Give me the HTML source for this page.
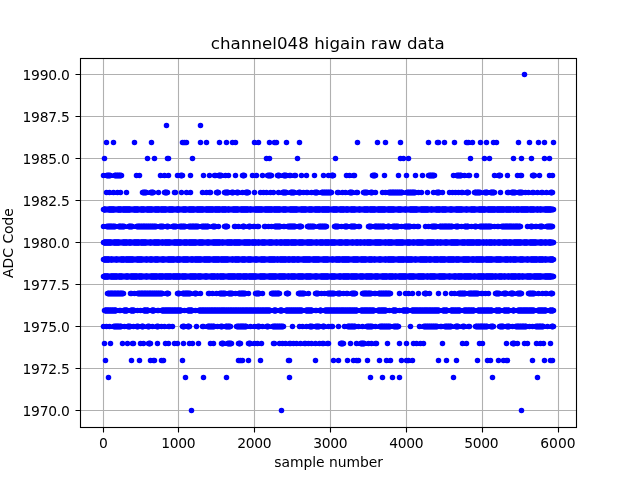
<!DOCTYPE html>
<html lang="en"><head><meta charset="utf-8"><title>channel048 higain raw data</title>
<style>
html,body{margin:0;padding:0;background:#fff;overflow:hidden}
svg{display:block}
text{font-family:"DejaVu Sans", "Liberation Sans", sans-serif;fill:#000}
.t{font-size:13.889px}
.h{font-size:16.667px}
</style></head>
<body>
<svg width="640" height="480" viewBox="0 0 640 480">
<rect width="640" height="480" fill="#fff"/>
<path d="M103.5 58V427M178.5 58V427M254.5 58V427M330.5 58V427M406.5 58V427M482.5 58V427M558.5 58V427M80 410.5H576M80 368.5H576M80 326.5H576M80 284.5H576M80 242.5H576M80 200.5H576M80 158.5H576M80 116.5H576M80 74.5H576" stroke="#b0b0b0" stroke-width="1.111" fill="none"/>
<path d="M191.5 410.5h0M281.5 410.5h0M521.5 410.5h0
M108.5 377.5h0M185.5 377.5h0M203.5 377.5h0M226.5 377.5h0M289.5 377.5h0M370.5 377.5h0M382.5 377.5h0M392.5 377.5h0M399.5 377.5h0M453.5 377.5h0M492.5 377.5h0M537.5 377.5h0
M105.5 360.5h0M131.5 360.5h0M139.5 360.5h0M150.5 360.5h0M153.5 360.5h1M161.5 360.5h0M163.5 360.5h0M182.5 360.5h0M238.5 360.5h0M240.5 360.5h0M242.5 360.5h0M248.5 360.5h0M260.5 360.5h0M288.5 360.5h1M315.5 360.5h0M333.5 360.5h0M338.5 360.5h0M347.5 360.5h0M353.5 360.5h0M356.5 360.5h0M358.5 360.5h0M367.5 360.5h0M379.5 360.5h0M386.5 360.5h0M390.5 360.5h0M401.5 360.5h0M406.5 360.5h0M408.5 360.5h0M412.5 360.5h0M438.5 360.5h0M446.5 360.5h0M456.5 360.5h0M477.5 360.5h0M487.5 360.5h0M490.5 360.5h0M498.5 360.5h0M503.5 360.5h0M506.5 360.5h1M532.5 360.5h0M544.5 360.5h0M550.5 360.5h0M552.5 360.5h0
M104.5 343.5h0M110.5 343.5h0M122.5 343.5h0M127.5 343.5h0M132.5 343.5h1M140.5 343.5h0M143.5 343.5h0M148.5 343.5h0M150.5 343.5h0M157.5 343.5h0M165.5 343.5h0M168.5 343.5h0M174.5 343.5h0M177.5 343.5h0M183.5 343.5h0M189.5 343.5h0M192.5 343.5h0M198.5 343.5h0M210.5 343.5h0M213.5 343.5h0M221.5 343.5h0M223.5 343.5h0M227.5 343.5h0M229.5 343.5h0M231.5 343.5h0M238.5 343.5h0M240.5 343.5h0M248.5 343.5h0M250.5 343.5h0M254.5 343.5h0M257.5 343.5h0M261.5 343.5h0M273.5 343.5h1M279.5 343.5h0M282.5 343.5h0M285.5 343.5h0M289.5 343.5h0M290.5 343.5h0M293.5 343.5h0M296.5 343.5h0M300.5 343.5h0M304.5 343.5h0M305.5 343.5h0M308.5 343.5h0M311.5 343.5h0M315.5 343.5h0M319.5 343.5h0M322.5 343.5h0M323.5 343.5h0M327.5 343.5h0M328.5 343.5h0M340.5 343.5h1M343.5 343.5h0M350.5 343.5h0M356.5 343.5h0M360.5 343.5h0M362.5 343.5h0M364.5 343.5h0M368.5 343.5h0M371.5 343.5h0M375.5 343.5h0M376.5 343.5h0M387.5 343.5h0M399.5 343.5h0M406.5 343.5h0M413.5 343.5h0M416.5 343.5h0M420.5 343.5h0M423.5 343.5h0M442.5 343.5h0M462.5 343.5h0M466.5 343.5h0M479.5 343.5h0M482.5 343.5h0M506.5 343.5h0M512.5 343.5h0M514.5 343.5h0M517.5 343.5h0M524.5 343.5h0M527.5 343.5h0M536.5 343.5h0M540.5 343.5h0M543.5 343.5h0M550.5 343.5h0
M103.5 326.5h0M106.5 326.5h0M109.5 326.5h0M113.5 326.5h0M115.5 326.5h0M116.5 326.5h0M117.5 326.5h0M118.5 326.5h0M120.5 326.5h0M121.5 326.5h0M124.5 326.5h0M127.5 326.5h0M128.5 326.5h0M130.5 326.5h0M133.5 326.5h0M136.5 326.5h0M138.5 326.5h0M141.5 326.5h0M142.5 326.5h0M143.5 326.5h0M147.5 326.5h0M149.5 326.5h0M152.5 326.5h0M156.5 326.5h0M158.5 326.5h0M161.5 326.5h0M164.5 326.5h0M168.5 326.5h0M169.5 326.5h0M172.5 326.5h0M182.5 326.5h0M184.5 326.5h0M187.5 326.5h0M188.5 326.5h0M189.5 326.5h0M196.5 326.5h0M202.5 326.5h0M203.5 326.5h0M207.5 326.5h0M208.5 326.5h0M209.5 326.5h0M211.5 326.5h0M213.5 326.5h0M214.5 326.5h0M217.5 326.5h0M220.5 326.5h0M222.5 326.5h0M225.5 326.5h0M226.5 326.5h0M228.5 326.5h0M230.5 326.5h0M236.5 326.5h0M238.5 326.5h0M240.5 326.5h0M241.5 326.5h0M242.5 326.5h0M243.5 326.5h0M245.5 326.5h0M246.5 326.5h0M250.5 326.5h0M254.5 326.5h0M257.5 326.5h0M259.5 326.5h0M262.5 326.5h0M266.5 326.5h0M268.5 326.5h0M272.5 326.5h0M274.5 326.5h0M275.5 326.5h0M277.5 326.5h0M279.5 326.5h0M281.5 326.5h0M283.5 326.5h0M292.5 326.5h0M299.5 326.5h0M302.5 326.5h0M306.5 326.5h0M309.5 326.5h0M310.5 326.5h0M312.5 326.5h0M315.5 326.5h0M317.5 326.5h0M319.5 326.5h0M322.5 326.5h0M323.5 326.5h0M324.5 326.5h0M328.5 326.5h0M331.5 326.5h0M332.5 326.5h0M338.5 326.5h0M344.5 326.5h0M347.5 326.5h0M348.5 326.5h0M349.5 326.5h0M351.5 326.5h0M352.5 326.5h0M354.5 326.5h0M355.5 326.5h0M358.5 326.5h0M362.5 326.5h0M366.5 326.5h0M368.5 326.5h0M370.5 326.5h0M372.5 326.5h0M375.5 326.5h0M379.5 326.5h0M381.5 326.5h0M382.5 326.5h0M384.5 326.5h0M386.5 326.5h0M388.5 326.5h0M390.5 326.5h0M393.5 326.5h0M395.5 326.5h0M397.5 326.5h0M398.5 326.5h0M410.5 326.5h0M419.5 326.5h0M423.5 326.5h0M425.5 326.5h0M427.5 326.5h0M429.5 326.5h0M431.5 326.5h0M433.5 326.5h0M435.5 326.5h0M437.5 326.5h0M440.5 326.5h0M441.5 326.5h0M444.5 326.5h0M446.5 326.5h0M448.5 326.5h0M450.5 326.5h0M451.5 326.5h0M455.5 326.5h0M456.5 326.5h0M457.5 326.5h0M458.5 326.5h0M462.5 326.5h0M464.5 326.5h0M468.5 326.5h0M469.5 326.5h0M475.5 326.5h0M476.5 326.5h0M478.5 326.5h0M480.5 326.5h0M481.5 326.5h0M482.5 326.5h0M484.5 326.5h0M486.5 326.5h0M487.5 326.5h0M490.5 326.5h0M492.5 326.5h0M493.5 326.5h0M499.5 326.5h0M501.5 326.5h0M502.5 326.5h0M503.5 326.5h0M506.5 326.5h0M508.5 326.5h0M509.5 326.5h0M512.5 326.5h0M515.5 326.5h0M517.5 326.5h0M518.5 326.5h0M520.5 326.5h0M522.5 326.5h0M523.5 326.5h0M525.5 326.5h0M526.5 326.5h0M529.5 326.5h0M532.5 326.5h0M535.5 326.5h0M537.5 326.5h0M539.5 326.5h0M540.5 326.5h0M542.5 326.5h0M543.5 326.5h0M547.5 326.5h0M551.5 326.5h0M552.5 326.5h0M553.5 326.5h0
M104.5 310.5h0M105.5 310.5h0M106.5 310.5h0M107.5 310.5h0M108.5 310.5h0M110.5 310.5h0M112.5 310.5h0M114.5 310.5h0M115.5 310.5h0M116.5 310.5h0M119.5 310.5h0M120.5 310.5h0M123.5 310.5h0M125.5 310.5h0M126.5 310.5h0M127.5 310.5h0M130.5 310.5h0M132.5 310.5h0M134.5 310.5h0M137.5 310.5h0M140.5 310.5h0M143.5 310.5h0M144.5 310.5h0M145.5 310.5h0M147.5 310.5h0M148.5 310.5h0M151.5 310.5h0M152.5 310.5h0M154.5 310.5h0M157.5 310.5h0M158.5 310.5h0M161.5 310.5h0M163.5 310.5h0M165.5 310.5h0M166.5 310.5h0M167.5 310.5h0M168.5 310.5h0M169.5 310.5h0M170.5 310.5h0M172.5 310.5h0M174.5 310.5h0M175.5 310.5h0M177.5 310.5h0M178.5 310.5h0M180.5 310.5h0M181.5 310.5h0M184.5 310.5h0M187.5 310.5h0M189.5 310.5h0M190.5 310.5h0M191.5 310.5h0M192.5 310.5h0M195.5 310.5h0M198.5 310.5h0M200.5 310.5h0M202.5 310.5h0M203.5 310.5h0M205.5 310.5h0M207.5 310.5h0M209.5 310.5h0M211.5 310.5h0M212.5 310.5h0M214.5 310.5h0M215.5 310.5h0M217.5 310.5h0M219.5 310.5h0M221.5 310.5h0M222.5 310.5h0M223.5 310.5h0M224.5 310.5h0M226.5 310.5h0M228.5 310.5h0M230.5 310.5h0M231.5 310.5h0M233.5 310.5h0M235.5 310.5h0M236.5 310.5h0M238.5 310.5h0M240.5 310.5h0M242.5 310.5h0M243.5 310.5h0M245.5 310.5h0M246.5 310.5h0M247.5 310.5h0M249.5 310.5h0M250.5 310.5h0M251.5 310.5h0M253.5 310.5h0M255.5 310.5h0M257.5 310.5h0M258.5 310.5h0M260.5 310.5h0M262.5 310.5h0M263.5 310.5h0M265.5 310.5h0M266.5 310.5h0M267.5 310.5h0M268.5 310.5h0M270.5 310.5h0M273.5 310.5h0M274.5 310.5h0M276.5 310.5h0M279.5 310.5h0M280.5 310.5h0M281.5 310.5h0M282.5 310.5h0M285.5 310.5h0M287.5 310.5h0M289.5 310.5h0M291.5 310.5h0M293.5 310.5h0M295.5 310.5h0M297.5 310.5h0M299.5 310.5h0M300.5 310.5h0M302.5 310.5h0M305.5 310.5h0M307.5 310.5h0M308.5 310.5h0M309.5 310.5h0M310.5 310.5h0M311.5 310.5h0M312.5 310.5h0M315.5 310.5h0M316.5 310.5h0M319.5 310.5h0M321.5 310.5h0M324.5 310.5h0M326.5 310.5h0M327.5 310.5h0M328.5 310.5h0M329.5 310.5h0M330.5 310.5h0M331.5 310.5h0M333.5 310.5h0M334.5 310.5h0M336.5 310.5h0M337.5 310.5h0M339.5 310.5h0M341.5 310.5h0M342.5 310.5h0M343.5 310.5h0M345.5 310.5h0M347.5 310.5h0M349.5 310.5h0M350.5 310.5h0M352.5 310.5h0M354.5 310.5h0M356.5 310.5h0M357.5 310.5h0M360.5 310.5h0M362.5 310.5h0M364.5 310.5h0M365.5 310.5h0M366.5 310.5h0M367.5 310.5h0M369.5 310.5h0M370.5 310.5h0M372.5 310.5h0M374.5 310.5h0M377.5 310.5h0M379.5 310.5h0M381.5 310.5h0M382.5 310.5h0M383.5 310.5h0M384.5 310.5h0M386.5 310.5h0M389.5 310.5h0M392.5 310.5h0M393.5 310.5h0M394.5 310.5h0M396.5 310.5h0M399.5 310.5h0M402.5 310.5h0M403.5 310.5h0M404.5 310.5h0M405.5 310.5h0M406.5 310.5h0M407.5 310.5h0M408.5 310.5h0M411.5 310.5h0M412.5 310.5h0M413.5 310.5h0M414.5 310.5h0M415.5 310.5h0M416.5 310.5h0M417.5 310.5h0M419.5 310.5h0M420.5 310.5h0M422.5 310.5h0M424.5 310.5h0M425.5 310.5h0M426.5 310.5h0M427.5 310.5h0M429.5 310.5h0M430.5 310.5h0M432.5 310.5h0M434.5 310.5h0M435.5 310.5h0M436.5 310.5h0M437.5 310.5h0M439.5 310.5h0M442.5 310.5h0M444.5 310.5h0M446.5 310.5h0M447.5 310.5h0M450.5 310.5h0M451.5 310.5h0M452.5 310.5h0M453.5 310.5h0M455.5 310.5h0M457.5 310.5h0M458.5 310.5h0M459.5 310.5h0M460.5 310.5h0M463.5 310.5h0M465.5 310.5h0M466.5 310.5h0M468.5 310.5h0M469.5 310.5h0M471.5 310.5h0M473.5 310.5h0M474.5 310.5h0M477.5 310.5h0M478.5 310.5h0M480.5 310.5h0M482.5 310.5h0M484.5 310.5h0M486.5 310.5h0M487.5 310.5h0M488.5 310.5h0M490.5 310.5h0M491.5 310.5h0M492.5 310.5h0M495.5 310.5h0M496.5 310.5h0M498.5 310.5h0M499.5 310.5h0M500.5 310.5h0M503.5 310.5h0M504.5 310.5h0M506.5 310.5h0M508.5 310.5h0M509.5 310.5h0M512.5 310.5h0M513.5 310.5h0M514.5 310.5h0M517.5 310.5h0M519.5 310.5h0M520.5 310.5h0M521.5 310.5h0M523.5 310.5h0M524.5 310.5h0M525.5 310.5h0M526.5 310.5h0M527.5 310.5h0M529.5 310.5h0M530.5 310.5h0M531.5 310.5h0M532.5 310.5h0M534.5 310.5h0M537.5 310.5h0M539.5 310.5h0M540.5 310.5h0M541.5 310.5h0M542.5 310.5h0M544.5 310.5h0M545.5 310.5h0M546.5 310.5h0M549.5 310.5h0M550.5 310.5h0M552.5 310.5h0M553.5 310.5h0
M107.5 293.5h0M108.5 293.5h0M110.5 293.5h0M111.5 293.5h0M112.5 293.5h0M114.5 293.5h0M115.5 293.5h0M117.5 293.5h0M118.5 293.5h0M120.5 293.5h0M121.5 293.5h0M123.5 293.5h0M130.5 293.5h0M131.5 293.5h0M134.5 293.5h0M137.5 293.5h0M139.5 293.5h0M141.5 293.5h0M142.5 293.5h0M144.5 293.5h0M145.5 293.5h0M147.5 293.5h0M149.5 293.5h0M150.5 293.5h0M152.5 293.5h0M154.5 293.5h0M156.5 293.5h0M158.5 293.5h0M160.5 293.5h0M162.5 293.5h0M166.5 293.5h0M168.5 293.5h0M177.5 293.5h0M179.5 293.5h0M182.5 293.5h0M183.5 293.5h0M185.5 293.5h0M186.5 293.5h0M187.5 293.5h0M188.5 293.5h0M190.5 293.5h0M194.5 293.5h0M196.5 293.5h0M200.5 293.5h0M208.5 293.5h0M209.5 293.5h0M212.5 293.5h0M216.5 293.5h0M219.5 293.5h0M221.5 293.5h0M223.5 293.5h0M225.5 293.5h0M228.5 293.5h0M230.5 293.5h0M232.5 293.5h0M235.5 293.5h0M238.5 293.5h0M239.5 293.5h0M241.5 293.5h0M242.5 293.5h0M243.5 293.5h0M245.5 293.5h0M248.5 293.5h0M255.5 293.5h0M257.5 293.5h0M258.5 293.5h0M259.5 293.5h0M262.5 293.5h0M271.5 293.5h0M273.5 293.5h0M275.5 293.5h0M277.5 293.5h0M278.5 293.5h0M279.5 293.5h0M286.5 293.5h2M298.5 293.5h0M300.5 293.5h0M302.5 293.5h0M304.5 293.5h0M308.5 293.5h0M315.5 293.5h0M316.5 293.5h0M318.5 293.5h0M321.5 293.5h0M324.5 293.5h0M327.5 293.5h0M329.5 293.5h0M330.5 293.5h0M332.5 293.5h0M334.5 293.5h0M337.5 293.5h0M339.5 293.5h0M340.5 293.5h0M343.5 293.5h0M346.5 293.5h0M347.5 293.5h0M351.5 293.5h0M353.5 293.5h0M355.5 293.5h0M362.5 293.5h0M364.5 293.5h0M365.5 293.5h0M366.5 293.5h0M368.5 293.5h0M369.5 293.5h0M371.5 293.5h0M374.5 293.5h0M375.5 293.5h0M378.5 293.5h0M379.5 293.5h0M381.5 293.5h0M383.5 293.5h0M385.5 293.5h0M386.5 293.5h0M388.5 293.5h0M390.5 293.5h0M399.5 293.5h0M405.5 293.5h0M408.5 293.5h0M412.5 293.5h0M418.5 293.5h0M424.5 293.5h0M426.5 293.5h0M429.5 293.5h0M438.5 293.5h0M445.5 293.5h0M451.5 293.5h0M454.5 293.5h0M458.5 293.5h0M460.5 293.5h0M462.5 293.5h0M464.5 293.5h0M465.5 293.5h0M468.5 293.5h0M470.5 293.5h0M471.5 293.5h0M473.5 293.5h0M474.5 293.5h0M475.5 293.5h0M476.5 293.5h0M478.5 293.5h0M481.5 293.5h0M482.5 293.5h0M485.5 293.5h0M488.5 293.5h0M495.5 293.5h0M496.5 293.5h0M497.5 293.5h0M499.5 293.5h0M503.5 293.5h0M505.5 293.5h0M506.5 293.5h0M510.5 293.5h0M511.5 293.5h0M512.5 293.5h0M513.5 293.5h0M517.5 293.5h0M519.5 293.5h0M520.5 293.5h0M521.5 293.5h0M528.5 293.5h0M530.5 293.5h0M532.5 293.5h0M534.5 293.5h0M538.5 293.5h0M542.5 293.5h0M545.5 293.5h0M546.5 293.5h0M550.5 293.5h0M552.5 293.5h0
M103.5 276.5h450
M103.5 259.5h450
M103.5 242.5h450
M103.5 226.5h0M106.5 226.5h0M108.5 226.5h0M109.5 226.5h0M110.5 226.5h0M111.5 226.5h0M113.5 226.5h0M115.5 226.5h0M118.5 226.5h0M119.5 226.5h0M120.5 226.5h0M122.5 226.5h0M124.5 226.5h0M128.5 226.5h0M129.5 226.5h0M130.5 226.5h0M132.5 226.5h0M136.5 226.5h0M138.5 226.5h0M139.5 226.5h0M141.5 226.5h0M143.5 226.5h0M144.5 226.5h0M146.5 226.5h0M148.5 226.5h0M150.5 226.5h0M152.5 226.5h0M154.5 226.5h0M156.5 226.5h0M159.5 226.5h0M161.5 226.5h0M163.5 226.5h0M166.5 226.5h0M168.5 226.5h0M172.5 226.5h0M173.5 226.5h0M174.5 226.5h0M176.5 226.5h0M179.5 226.5h0M181.5 226.5h0M183.5 226.5h0M185.5 226.5h0M188.5 226.5h0M190.5 226.5h0M192.5 226.5h0M193.5 226.5h0M195.5 226.5h0M196.5 226.5h0M198.5 226.5h0M201.5 226.5h0M203.5 226.5h0M205.5 226.5h0M207.5 226.5h0M208.5 226.5h0M212.5 226.5h0M213.5 226.5h0M215.5 226.5h0M218.5 226.5h0M224.5 226.5h0M226.5 226.5h0M227.5 226.5h0M234.5 226.5h0M235.5 226.5h0M238.5 226.5h0M242.5 226.5h2M248.5 226.5h0M250.5 226.5h0M253.5 226.5h0M254.5 226.5h0M257.5 226.5h0M258.5 226.5h0M264.5 226.5h0M265.5 226.5h0M268.5 226.5h0M271.5 226.5h0M274.5 226.5h0M275.5 226.5h0M276.5 226.5h0M277.5 226.5h0M278.5 226.5h0M279.5 226.5h0M280.5 226.5h0M283.5 226.5h0M284.5 226.5h0M287.5 226.5h0M289.5 226.5h0M290.5 226.5h0M291.5 226.5h0M292.5 226.5h0M293.5 226.5h0M294.5 226.5h0M295.5 226.5h0M298.5 226.5h0M300.5 226.5h0M301.5 226.5h0M307.5 226.5h0M308.5 226.5h0M310.5 226.5h0M312.5 226.5h0M314.5 226.5h0M318.5 226.5h0M320.5 226.5h0M322.5 226.5h0M324.5 226.5h0M326.5 226.5h0M334.5 226.5h0M335.5 226.5h0M336.5 226.5h0M338.5 226.5h0M341.5 226.5h0M344.5 226.5h0M345.5 226.5h0M346.5 226.5h0M347.5 226.5h0M350.5 226.5h0M351.5 226.5h0M352.5 226.5h0M353.5 226.5h0M354.5 226.5h0M355.5 226.5h0M358.5 226.5h0M359.5 226.5h0M368.5 226.5h0M369.5 226.5h0M371.5 226.5h0M374.5 226.5h0M375.5 226.5h0M376.5 226.5h0M378.5 226.5h0M380.5 226.5h0M382.5 226.5h0M383.5 226.5h0M384.5 226.5h0M387.5 226.5h0M388.5 226.5h0M389.5 226.5h0M392.5 226.5h0M394.5 226.5h0M396.5 226.5h0M398.5 226.5h0M401.5 226.5h0M404.5 226.5h0M406.5 226.5h0M408.5 226.5h0M410.5 226.5h0M413.5 226.5h0M414.5 226.5h0M417.5 226.5h0M418.5 226.5h0M425.5 226.5h0M428.5 226.5h0M431.5 226.5h0M433.5 226.5h0M434.5 226.5h0M436.5 226.5h0M439.5 226.5h0M440.5 226.5h0M442.5 226.5h0M444.5 226.5h0M445.5 226.5h0M446.5 226.5h0M448.5 226.5h0M449.5 226.5h0M451.5 226.5h0M452.5 226.5h0M455.5 226.5h0M457.5 226.5h0M458.5 226.5h0M461.5 226.5h0M464.5 226.5h0M465.5 226.5h0M467.5 226.5h0M468.5 226.5h0M471.5 226.5h0M474.5 226.5h0M476.5 226.5h0M479.5 226.5h0M481.5 226.5h0M483.5 226.5h0M485.5 226.5h0M486.5 226.5h0M488.5 226.5h0M489.5 226.5h0M491.5 226.5h0M494.5 226.5h0M497.5 226.5h0M498.5 226.5h0M501.5 226.5h0M503.5 226.5h0M505.5 226.5h0M506.5 226.5h0M507.5 226.5h0M509.5 226.5h0M510.5 226.5h0M511.5 226.5h0M513.5 226.5h0M515.5 226.5h0M516.5 226.5h0M517.5 226.5h0M519.5 226.5h0M520.5 226.5h0M527.5 226.5h0M530.5 226.5h0M532.5 226.5h0M535.5 226.5h0M536.5 226.5h0M539.5 226.5h0M541.5 226.5h0M542.5 226.5h0M546.5 226.5h0M548.5 226.5h0M549.5 226.5h0M550.5 226.5h0M552.5 226.5h0
M103.5 209.5h450
M106.5 192.5h0M109.5 192.5h0M113.5 192.5h0M117.5 192.5h0M120.5 192.5h0M126.5 192.5h0M142.5 192.5h0M144.5 192.5h0M146.5 192.5h0M150.5 192.5h0M152.5 192.5h0M153.5 192.5h0M158.5 192.5h0M164.5 192.5h0M165.5 192.5h0M167.5 192.5h0M174.5 192.5h1M181.5 192.5h0M186.5 192.5h0M190.5 192.5h0M202.5 192.5h0M206.5 192.5h0M209.5 192.5h0M210.5 192.5h0M216.5 192.5h2M224.5 192.5h0M226.5 192.5h0M227.5 192.5h0M228.5 192.5h0M231.5 192.5h0M233.5 192.5h0M236.5 192.5h0M238.5 192.5h0M242.5 192.5h0M245.5 192.5h0M246.5 192.5h0M247.5 192.5h0M248.5 192.5h0M254.5 192.5h0M260.5 192.5h0M263.5 192.5h0M266.5 192.5h0M270.5 192.5h0M273.5 192.5h0M278.5 192.5h0M282.5 192.5h0M283.5 192.5h0M284.5 192.5h0M286.5 192.5h0M290.5 192.5h0M291.5 192.5h0M292.5 192.5h0M294.5 192.5h0M298.5 192.5h0M300.5 192.5h0M303.5 192.5h0M306.5 192.5h0M307.5 192.5h0M311.5 192.5h0M314.5 192.5h0M316.5 192.5h0M317.5 192.5h0M321.5 192.5h0M322.5 192.5h0M324.5 192.5h0M326.5 192.5h0M328.5 192.5h0M330.5 192.5h0M331.5 192.5h0M337.5 192.5h1M342.5 192.5h0M345.5 192.5h0M349.5 192.5h0M350.5 192.5h0M352.5 192.5h0M356.5 192.5h0M357.5 192.5h0M363.5 192.5h0M365.5 192.5h0M367.5 192.5h0M370.5 192.5h0M372.5 192.5h0M375.5 192.5h0M382.5 192.5h0M385.5 192.5h0M388.5 192.5h0M390.5 192.5h0M392.5 192.5h0M393.5 192.5h0M395.5 192.5h0M397.5 192.5h0M399.5 192.5h0M401.5 192.5h0M402.5 192.5h0M406.5 192.5h0M408.5 192.5h0M410.5 192.5h0M412.5 192.5h0M413.5 192.5h0M415.5 192.5h0M418.5 192.5h0M421.5 192.5h0M427.5 192.5h0M433.5 192.5h0M436.5 192.5h0M438.5 192.5h0M439.5 192.5h0M442.5 192.5h0M449.5 192.5h0M452.5 192.5h0M455.5 192.5h0M458.5 192.5h0M461.5 192.5h0M462.5 192.5h0M466.5 192.5h0M468.5 192.5h0M474.5 192.5h0M475.5 192.5h0M477.5 192.5h0M478.5 192.5h0M480.5 192.5h0M484.5 192.5h0M486.5 192.5h0M487.5 192.5h0M490.5 192.5h0M491.5 192.5h0M492.5 192.5h0M493.5 192.5h0M494.5 192.5h0M500.5 192.5h0M507.5 192.5h0M508.5 192.5h0M511.5 192.5h0M512.5 192.5h0M513.5 192.5h0M515.5 192.5h0M518.5 192.5h0M520.5 192.5h0M522.5 192.5h0M525.5 192.5h0M528.5 192.5h0M532.5 192.5h0M533.5 192.5h0M537.5 192.5h0M541.5 192.5h0M542.5 192.5h0M546.5 192.5h0M550.5 192.5h0M552.5 192.5h0
M103.5 175.5h0M106.5 175.5h0M108.5 175.5h0M110.5 175.5h0M114.5 175.5h0M115.5 175.5h0M117.5 175.5h0M119.5 175.5h0M121.5 175.5h0M136.5 175.5h0M139.5 175.5h0M160.5 175.5h0M164.5 175.5h0M168.5 175.5h0M177.5 175.5h0M180.5 175.5h0M182.5 175.5h0M190.5 175.5h0M203.5 175.5h0M209.5 175.5h0M214.5 175.5h0M215.5 175.5h0M218.5 175.5h0M219.5 175.5h0M221.5 175.5h0M225.5 175.5h0M228.5 175.5h0M235.5 175.5h0M242.5 175.5h0M244.5 175.5h0M252.5 175.5h0M256.5 175.5h0M262.5 175.5h0M267.5 175.5h0M269.5 175.5h0M271.5 175.5h0M277.5 175.5h0M279.5 175.5h0M283.5 175.5h0M284.5 175.5h0M286.5 175.5h0M289.5 175.5h0M290.5 175.5h0M294.5 175.5h0M295.5 175.5h0M301.5 175.5h0M306.5 175.5h0M314.5 175.5h0M323.5 175.5h0M328.5 175.5h0M331.5 175.5h0M332.5 175.5h0M333.5 175.5h0M346.5 175.5h0M349.5 175.5h0M353.5 175.5h0M354.5 175.5h0M372.5 175.5h0M374.5 175.5h0M375.5 175.5h0M384.5 175.5h0M398.5 175.5h0M406.5 175.5h0M415.5 175.5h0M422.5 175.5h0M428.5 175.5h0M430.5 175.5h0M432.5 175.5h0M434.5 175.5h0M453.5 175.5h0M456.5 175.5h0M458.5 175.5h0M460.5 175.5h0M461.5 175.5h0M464.5 175.5h0M468.5 175.5h0M469.5 175.5h0M476.5 175.5h0M494.5 175.5h0M498.5 175.5h0M500.5 175.5h0M507.5 175.5h0M517.5 175.5h0M520.5 175.5h1M532.5 175.5h0M534.5 175.5h0M539.5 175.5h0M549.5 175.5h0M552.5 175.5h0
M104.5 158.5h0M147.5 158.5h0M154.5 158.5h0M167.5 158.5h1M192.5 158.5h0M266.5 158.5h0M269.5 158.5h0M297.5 158.5h0M335.5 158.5h0M400.5 158.5h0M403.5 158.5h0M408.5 158.5h0M470.5 158.5h0M484.5 158.5h0M489.5 158.5h0M513.5 158.5h0M521.5 158.5h0M531.5 158.5h0M544.5 158.5h0M549.5 158.5h0
M106.5 142.5h0M113.5 142.5h0M134.5 142.5h0M151.5 142.5h0M182.5 142.5h0M184.5 142.5h0M186.5 142.5h0M200.5 142.5h0M206.5 142.5h0M219.5 142.5h0M226.5 142.5h0M232.5 142.5h0M235.5 142.5h0M254.5 142.5h0M258.5 142.5h0M269.5 142.5h0M274.5 142.5h0M276.5 142.5h0M286.5 142.5h0M299.5 142.5h0M357.5 142.5h0M377.5 142.5h0M385.5 142.5h0M400.5 142.5h0M428.5 142.5h0M437.5 142.5h1M444.5 142.5h0M454.5 142.5h0M466.5 142.5h0M468.5 142.5h0M472.5 142.5h0M480.5 142.5h0M486.5 142.5h0M493.5 142.5h0M496.5 142.5h0M518.5 142.5h0M529.5 142.5h0M538.5 142.5h0M544.5 142.5h0M553.5 142.5h0
M166.5 125.5h0M200.5 125.5h0
M524.5 74.5h0" stroke="#0000ff" stroke-width="5.56" stroke-linecap="round" fill="none"/>
<path d="M104.5 310.5h12M123.5 310.5h4M130.5 310.5h4M143.5 310.5h5M151.5 310.5h3M161.5 310.5h20M187.5 310.5h5M198.5 310.5h72M273.5 310.5h3M279.5 310.5h3M285.5 310.5h17M305.5 310.5h7M319.5 310.5h2M324.5 310.5h33M360.5 310.5h14M377.5 310.5h9M392.5 310.5h4M402.5 310.5h6M411.5 310.5h28M442.5 310.5h5M450.5 310.5h10M463.5 310.5h11M477.5 310.5h15M495.5 310.5h5M503.5 310.5h6M512.5 310.5h2M517.5 310.5h17M537.5 310.5h9M549.5 310.5h4" stroke="#0000ff" stroke-width="6.3" fill="none"/>
<path d="M103.5 276.5h5M110.5 276.5h7M118.5 276.5h4M125.5 276.5h3M130.5 276.5h7M138.5 276.5h4M145.5 276.5h2M150.5 276.5h7M158.5 276.5h5M164.5 276.5h7M172.5 276.5h8M181.5 276.5h5M189.5 276.5h7M197.5 276.5h4M204.5 276.5h3M210.5 276.5h5M216.5 276.5h2M219.5 276.5h5M227.5 276.5h8M236.5 276.5h5M242.5 276.5h5M248.5 276.5h8M259.5 276.5h6M268.5 276.5h8M278.5 276.5h7M287.5 276.5h2M290.5 276.5h5M297.5 276.5h6M305.5 276.5h6M314.5 276.5h3M320.5 276.5h8M330.5 276.5h5M338.5 276.5h3M342.5 276.5h7M350.5 276.5h7M359.5 276.5h4M365.5 276.5h7M374.5 276.5h4M381.5 276.5h6M388.5 276.5h5M394.5 276.5h2M398.5 276.5h8M408.5 276.5h6M417.5 276.5h7M426.5 276.5h2M429.5 276.5h6M438.5 276.5h7M448.5 276.5h2M453.5 276.5h3M457.5 276.5h5M463.5 276.5h8M473.5 276.5h2M477.5 276.5h7M485.5 276.5h8M494.5 276.5h2M498.5 276.5h4M503.5 276.5h2M507.5 276.5h2M510.5 276.5h6M517.5 276.5h3M521.5 276.5h2M526.5 276.5h5M533.5 276.5h8M544.5 276.5h7" stroke="#0000ff" stroke-width="6.55" fill="none"/>
<path d="M103.5 276.5h450" stroke="#0000ff" stroke-width="6.1" fill="none"/>
<path d="M103.5 259.5h6M110.5 259.5h2M115.5 259.5h2M120.5 259.5h4M125.5 259.5h8M136.5 259.5h6M145.5 259.5h2M149.5 259.5h3M154.5 259.5h4M161.5 259.5h3M167.5 259.5h7M176.5 259.5h4M182.5 259.5h6M190.5 259.5h3M194.5 259.5h7M203.5 259.5h7M212.5 259.5h7M220.5 259.5h8M231.5 259.5h2M234.5 259.5h5M241.5 259.5h4M247.5 259.5h4M254.5 259.5h3M260.5 259.5h5M268.5 259.5h7M276.5 259.5h2M279.5 259.5h7M287.5 259.5h3M291.5 259.5h4M296.5 259.5h3M302.5 259.5h8M312.5 259.5h7M322.5 259.5h6M331.5 259.5h2M335.5 259.5h5M341.5 259.5h8M352.5 259.5h6M360.5 259.5h6M368.5 259.5h4M373.5 259.5h2M378.5 259.5h3M384.5 259.5h2M387.5 259.5h7M397.5 259.5h7M405.5 259.5h7M414.5 259.5h2M419.5 259.5h8M428.5 259.5h3M433.5 259.5h5M439.5 259.5h6M447.5 259.5h7M455.5 259.5h4M462.5 259.5h7M471.5 259.5h3M475.5 259.5h8M485.5 259.5h7M495.5 259.5h6M504.5 259.5h4M509.5 259.5h2M512.5 259.5h4M519.5 259.5h4M526.5 259.5h2M530.5 259.5h7M538.5 259.5h5M544.5 259.5h2M549.5 259.5h4" stroke="#0000ff" stroke-width="6.55" fill="none"/>
<path d="M103.5 259.5h450" stroke="#0000ff" stroke-width="6.1" fill="none"/>
<path d="M103.5 242.5h8M113.5 242.5h6M122.5 242.5h5M128.5 242.5h3M133.5 242.5h6M140.5 242.5h6M149.5 242.5h2M153.5 242.5h6M161.5 242.5h2M164.5 242.5h6M173.5 242.5h8M183.5 242.5h4M188.5 242.5h8M198.5 242.5h5M206.5 242.5h3M212.5 242.5h8M221.5 242.5h2M226.5 242.5h6M233.5 242.5h7M243.5 242.5h7M251.5 242.5h5M257.5 242.5h2M261.5 242.5h4M268.5 242.5h4M275.5 242.5h2M279.5 242.5h3M283.5 242.5h6M290.5 242.5h6M298.5 242.5h5M306.5 242.5h6M315.5 242.5h2M319.5 242.5h4M324.5 242.5h5M330.5 242.5h5M338.5 242.5h4M344.5 242.5h4M351.5 242.5h2M355.5 242.5h3M359.5 242.5h2M363.5 242.5h2M366.5 242.5h5M374.5 242.5h7M384.5 242.5h2M387.5 242.5h5M395.5 242.5h8M406.5 242.5h4M412.5 242.5h2M416.5 242.5h7M426.5 242.5h8M436.5 242.5h2M439.5 242.5h2M444.5 242.5h3M450.5 242.5h8M461.5 242.5h4M466.5 242.5h8M475.5 242.5h5M482.5 242.5h2M485.5 242.5h2M488.5 242.5h4M493.5 242.5h2M497.5 242.5h3M502.5 242.5h5M508.5 242.5h3M513.5 242.5h8M523.5 242.5h4M529.5 242.5h7M539.5 242.5h3M544.5 242.5h2M548.5 242.5h3" stroke="#0000ff" stroke-width="6.55" fill="none"/>
<path d="M103.5 242.5h450" stroke="#0000ff" stroke-width="6.1" fill="none"/>
<path d="M103.5 209.5h2M108.5 209.5h6M117.5 209.5h4M122.5 209.5h8M133.5 209.5h5M140.5 209.5h4M146.5 209.5h6M154.5 209.5h5M160.5 209.5h6M168.5 209.5h5M176.5 209.5h3M182.5 209.5h4M188.5 209.5h6M196.5 209.5h7M205.5 209.5h8M214.5 209.5h6M221.5 209.5h5M227.5 209.5h2M232.5 209.5h6M240.5 209.5h8M249.5 209.5h2M254.5 209.5h8M264.5 209.5h8M273.5 209.5h7M282.5 209.5h4M289.5 209.5h8M300.5 209.5h6M308.5 209.5h4M314.5 209.5h6M321.5 209.5h8M332.5 209.5h5M339.5 209.5h5M345.5 209.5h3M350.5 209.5h5M358.5 209.5h2M363.5 209.5h5M369.5 209.5h6M377.5 209.5h8M387.5 209.5h7M397.5 209.5h4M404.5 209.5h2M409.5 209.5h8M420.5 209.5h8M430.5 209.5h2M435.5 209.5h5M441.5 209.5h5M449.5 209.5h3M455.5 209.5h7M465.5 209.5h2M470.5 209.5h5M478.5 209.5h7M487.5 209.5h8M496.5 209.5h8M505.5 209.5h6M512.5 209.5h2M515.5 209.5h4M520.5 209.5h8M529.5 209.5h5M536.5 209.5h2M539.5 209.5h2M544.5 209.5h7" stroke="#0000ff" stroke-width="6.55" fill="none"/>
<path d="M103.5 209.5h450" stroke="#0000ff" stroke-width="6.1" fill="none"/>
<path d="M106.5 226.5h9M118.5 226.5h6M128.5 226.5h4M136.5 226.5h20M159.5 226.5h4M166.5 226.5h2M172.5 226.5h4M179.5 226.5h6M188.5 226.5h10M201.5 226.5h7M212.5 226.5h3M224.5 226.5h3M242.5 226.5h2M248.5 226.5h2M274.5 226.5h6M287.5 226.5h8M298.5 226.5h3M307.5 226.5h7M318.5 226.5h8M334.5 226.5h4M344.5 226.5h3M350.5 226.5h5M368.5 226.5h3M374.5 226.5h10M387.5 226.5h2M392.5 226.5h6M404.5 226.5h6M431.5 226.5h5M439.5 226.5h13M455.5 226.5h3M464.5 226.5h4M474.5 226.5h2M479.5 226.5h12M501.5 226.5h19M530.5 226.5h2M539.5 226.5h3M546.5 226.5h6" stroke="#0000ff" stroke-width="6.2" fill="none"/>
<path d="M142.5 192.5h4M150.5 192.5h3M164.5 192.5h3M216.5 192.5h2M224.5 192.5h4M231.5 192.5h2M236.5 192.5h2M245.5 192.5h3M282.5 192.5h4M290.5 192.5h4M298.5 192.5h2M314.5 192.5h3M321.5 192.5h10M349.5 192.5h3M363.5 192.5h4M370.5 192.5h2M388.5 192.5h14M406.5 192.5h9M436.5 192.5h3M466.5 192.5h2M474.5 192.5h6M484.5 192.5h3M490.5 192.5h4M511.5 192.5h4M518.5 192.5h4M550.5 192.5h2" stroke="#0000ff" stroke-width="6.2" fill="none"/>
<path d="M107.5 293.5h16M137.5 293.5h25M166.5 293.5h2M177.5 293.5h2M182.5 293.5h8M194.5 293.5h2M219.5 293.5h6M228.5 293.5h4M238.5 293.5h7M255.5 293.5h4M271.5 293.5h8M286.5 293.5h2M298.5 293.5h6M315.5 293.5h3M327.5 293.5h7M337.5 293.5h3M351.5 293.5h4M362.5 293.5h9M378.5 293.5h12M424.5 293.5h2M458.5 293.5h7M468.5 293.5h10M495.5 293.5h4M503.5 293.5h3M510.5 293.5h3M517.5 293.5h4M528.5 293.5h6M550.5 293.5h2" stroke="#0000ff" stroke-width="6.2" fill="none"/>
<path d="M113.5 326.5h8M127.5 326.5h3M136.5 326.5h2M141.5 326.5h2M147.5 326.5h2M156.5 326.5h2M182.5 326.5h2M187.5 326.5h2M207.5 326.5h7M220.5 326.5h2M225.5 326.5h5M236.5 326.5h10M257.5 326.5h2M266.5 326.5h2M272.5 326.5h11M309.5 326.5h3M315.5 326.5h4M322.5 326.5h2M347.5 326.5h8M366.5 326.5h6M379.5 326.5h11M393.5 326.5h5M423.5 326.5h14M444.5 326.5h7M455.5 326.5h3M462.5 326.5h2M475.5 326.5h12M490.5 326.5h3M499.5 326.5h4M506.5 326.5h3M515.5 326.5h11M535.5 326.5h8M551.5 326.5h2" stroke="#0000ff" stroke-width="6.2" fill="none"/>
<path d="M106.5 175.5h4M114.5 175.5h7M180.5 175.5h2M218.5 175.5h3M242.5 175.5h2M267.5 175.5h4M277.5 175.5h2M283.5 175.5h3M331.5 175.5h2M372.5 175.5h3M428.5 175.5h6M456.5 175.5h5M498.5 175.5h2M532.5 175.5h2" stroke="#0000ff" stroke-width="6" fill="none"/>
<path d="M148.5 343.5h2M221.5 343.5h2M227.5 343.5h4M238.5 343.5h2M248.5 343.5h2M340.5 343.5h3M360.5 343.5h4M512.5 343.5h2" stroke="#0000ff" stroke-width="6" fill="none"/>
<rect x="80.5" y="58.5" width="496" height="369" fill="none" stroke="#000" stroke-width="1.111"/>
<path d="M103.5 428v4.5M178.5 428v4.5M254.5 428v4.5M330.5 428v4.5M406.5 428v4.5M482.5 428v4.5M558.5 428v4.5M80 410.5h-4.5M80 368.5h-4.5M80 326.5h-4.5M80 284.5h-4.5M80 242.5h-4.5M80 200.5h-4.5M80 158.5h-4.5M80 116.5h-4.5M80 74.5h-4.5" stroke="#000" stroke-width="1.111" fill="none"/>
<text class="t" x="103.5" y="447.5" text-anchor="middle">0</text>
<text class="t" x="178.5" y="447.5" text-anchor="middle" textLength="34.4" lengthAdjust="spacing">1000</text>
<text class="t" x="254.5" y="447.5" text-anchor="middle" textLength="34.4" lengthAdjust="spacing">2000</text>
<text class="t" x="330.5" y="447.5" text-anchor="middle" textLength="34.4" lengthAdjust="spacing">3000</text>
<text class="t" x="406.5" y="447.5" text-anchor="middle" textLength="34.4" lengthAdjust="spacing">4000</text>
<text class="t" x="481.4" y="447.5" text-anchor="middle" textLength="34.4" lengthAdjust="spacing">5000</text>
<text class="t" x="557.9" y="447.5" text-anchor="middle" textLength="35.4" lengthAdjust="spacing">6000</text>
<text class="t" x="69.9" y="415.8" text-anchor="end" textLength="47.5" lengthAdjust="spacing">1970.0</text>
<text class="t" x="69.9" y="373.8" text-anchor="end" textLength="47.5" lengthAdjust="spacing">1972.5</text>
<text class="t" x="69.9" y="331.8" text-anchor="end" textLength="47.5" lengthAdjust="spacing">1975.0</text>
<text class="t" x="69.9" y="289.8" text-anchor="end" textLength="47.5" lengthAdjust="spacing">1977.5</text>
<text class="t" x="69.9" y="247.8" text-anchor="end" textLength="47.5" lengthAdjust="spacing">1980.0</text>
<text class="t" x="69.9" y="205.8" text-anchor="end" textLength="47.5" lengthAdjust="spacing">1982.5</text>
<text class="t" x="69.9" y="163.8" text-anchor="end" textLength="47.5" lengthAdjust="spacing">1985.0</text>
<text class="t" x="69.9" y="121.8" text-anchor="end" textLength="47.5" lengthAdjust="spacing">1987.5</text>
<text class="t" x="69.9" y="79.8" text-anchor="end" textLength="47.5" lengthAdjust="spacing">1990.0</text>
<text class="t" x="328.6" y="467" text-anchor="middle" textLength="108.6" lengthAdjust="spacing">sample number</text>
<text class="t" transform="translate(12.6,243) rotate(-90)" text-anchor="middle">ADC Code</text>
<text class="h" x="327.7" y="48.5" text-anchor="middle" textLength="233.8" lengthAdjust="spacing">channel048 higain raw data</text>
</svg>
</body></html>
